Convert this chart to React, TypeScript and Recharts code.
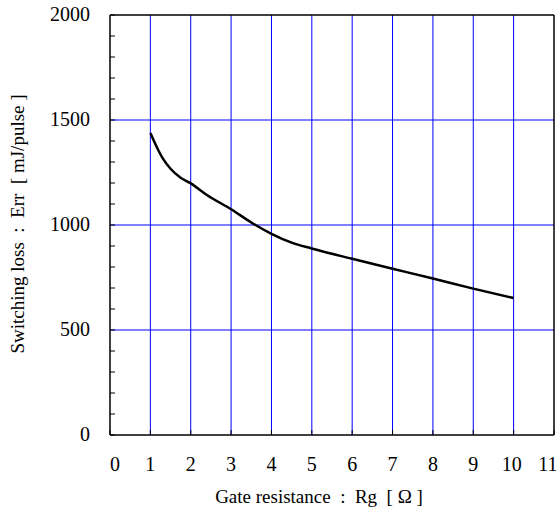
import React from 'react';
import { LineChart, Line, XAxis, YAxis, ReferenceLine, Label } from 'recharts';

// Switching loss vs gate resistance
const rg = [1, 1.2, 1.3, 1.5, 1.75, 2, 2.4, 3, 3.5, 4, 4.5, 5, 6, 7, 8, 9, 10];
const err = [1438, 1355, 1320, 1268, 1225, 1198, 1143, 1075, 1012, 958, 916, 888, 839, 792, 745, 697, 652];

const xTicks = [0, 1, 2, 3, 4, 5, 6, 7, 8, 9, 10, 11];
const yTicks = [0, 100, 200, 300, 400, 500, 600, 700, 800, 900, 1000, 1100, 1200, 1300, 1400, 1500, 1600, 1700, 1800, 1900, 2000];
const yLabels = [0, 500, 1000, 1500, 2000];
const xGrid = [1, 2, 3, 4, 5, 6, 7, 8, 9, 10];
const yGrid = [500, 1000, 1500];

const data = rg.map((x, i) => ({ x, y: err[i] }));

const FONT = '"Liberation Serif", "Times New Roman", serif';

function XTick(props: any) {
    const { x, y, payload } = props;
    // end labels are nudged inward like in the original
    const shift = payload.value === 0 ? 5 : payload.value === 11 ? -6 : payload.value === 10 ? -2 : 0;
    return (
        <g>
            <line x1={x} y1={y} x2={x} y2={y - 5} stroke="#000" strokeWidth={1} />
            <text x={x + shift} y={y + 36} textAnchor="middle" fontFamily={FONT} fontSize={20} fill="#000">
                {payload.value}
            </text>
        </g>
    );
}

function YTick(props: any) {
    const { x, y, payload } = props;
    const showLabel = yLabels.includes(payload.value);
    return (
        <g>
            <line x1={x} y1={y} x2={x + 5} y2={y} stroke="#000" strokeWidth={1} />
            {showLabel && (
                <text x={x - 20} y={y + 6} textAnchor="end" fontFamily={FONT} fontSize={20} fill="#000">
                    {payload.value}
                </text>
            )}
        </g>
    );
}

export default function App() {
    return (
        <div style={{ position: 'absolute', left: 0, top: 0, background: '#fff' }}>
            <LineChart width={559} height={515} data={data} margin={{ top: 15, right: 5, left: 0, bottom: 0 }}>
                <XAxis
                    dataKey="x"
                    type="number"
                    domain={[0, 11]}
                    ticks={xTicks}
                    interval={0}
                    height={80}
                    tickLine={false}
                    tickSize={0}
                    tickMargin={0}
                    tick={<XTick />}
                    axisLine={{ stroke: '#000', strokeWidth: 1.5 }}
                >
                    <Label
                        content={() => (
                            <text
                                x={319}
                                y={503}
                                textAnchor="middle"
                                fontFamily={FONT}
                                fontSize={19}
                                fill="#000"
                                style={{ whiteSpace: 'pre' }}
                            >
                                {'Gate resistance  :  Rg  [ Ω ]'}
                            </text>
                        )}
                    />
                </XAxis>
                <YAxis
                    type="number"
                    domain={[0, 2000]}
                    ticks={yTicks}
                    interval={0}
                    width={110}
                    tickLine={false}
                    tickSize={0}
                    tickMargin={0}
                    tick={<YTick />}
                    axisLine={{ stroke: '#000', strokeWidth: 1.5 }}
                >
                    <Label
                        content={() => (
                            <text
                                x={24}
                                y={224}
                                textAnchor="middle"
                                fontFamily={FONT}
                                fontSize={19}
                                fill="#000"
                                transform="rotate(-90 24 224)"
                                style={{ whiteSpace: 'pre' }}
                            >
                                {'Switching loss  :  Err  [ mJ/pulse ]'}
                            </text>
                        )}
                    />
                </YAxis>
                {xGrid.map((v) => (
                    <ReferenceLine key={`gx-${v}`} x={v} stroke="#0000ff" strokeWidth={1} />
                ))}
                {yGrid.map((v) => (
                    <ReferenceLine key={`gy-${v}`} y={v} stroke="#0000ff" strokeWidth={1} />
                ))}
                <ReferenceLine x={11} stroke="#000" strokeWidth={1.5} />
                <ReferenceLine y={2000} stroke="#000" strokeWidth={1.5} />
                <Line
                    type="monotone"
                    dataKey="y"
                    stroke="#000"
                    strokeWidth={2.5}
                    dot={false}
                    isAnimationActive={false}
                />
            </LineChart>
        </div>
    );
}
